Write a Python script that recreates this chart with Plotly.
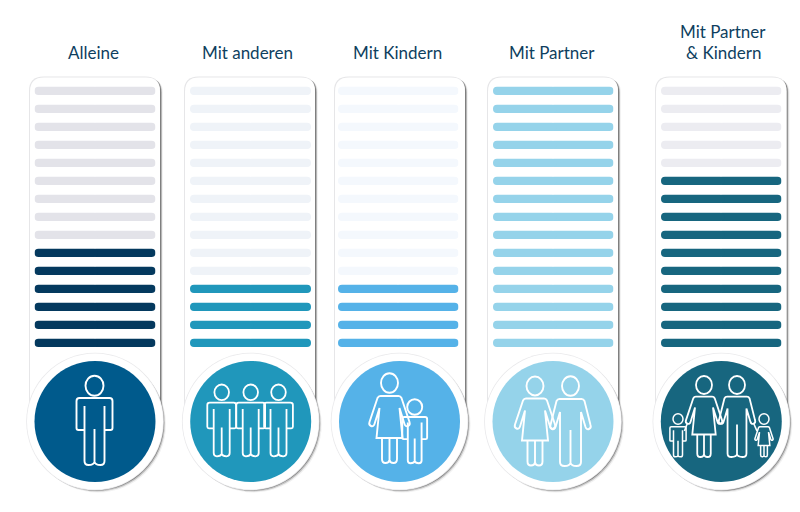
import plotly.graph_objects as go

# ---------- data ----------
categories = ["Alleine", "Mit anderen", "Mit Kindern", "Mit Partner", "Mit Partner\n& Kindern"]
filled_rows = [6, 4, 4, 15, 10]
total_rows = 15
filled_colors = ["#04395e", "#2097bb", "#55b2e8", "#95d3ea", "#17667f"]
empty_colors = ["#e3e3e9", "#eff3f8", "#f4f8fd", "#95d3ea", "#ececf1"]
circle_colors = ["#005a8c", "#2097bb", "#55b2e8", "#95d3ea", "#17667f"]

# ---------- layout geometry (pixels) ----------
W, H = 800, 512
bar_left = [34.5, 190, 338, 493, 661]
bar_right = [155.5, 311, 458.5, 613.5, 781.5]
panel_left = [30, 185, 335, 488, 656]
panel_right = [160, 315, 465, 618, 786.5]
panel_top, panel_bottom = 77.5, 425
circle_cx = [95, 250.7, 399.5, 553, 721.3]
circle_cy = 421.5
title_cx = [93, 247, 397, 552, 723]
title_line_gap = 20.5
rows_top, rows_bottom = 81.8, 351.8

px = lambda x: x / W
py = lambda y: 1 - y / H


def pth(cmds):
    """cmds: list of (letter, x, y, ...) in page pixels -> paper-space SVG path."""
    out = []
    for c in cmds:
        out.append(c[0])
        vals = c[1:]
        pairs = []
        for i in range(0, len(vals), 2):
            pairs.append(f"{px(vals[i]):.5f},{py(vals[i + 1]):.5f}")
        out.append(" ".join(pairs))
    return " ".join(out)


def rounded_rect(x0, y0, x1, y1, r):
    return pth([
        ("M", x0 + r, y0), ("L", x1 - r, y0), ("Q", x1, y0, x1, y0 + r),
        ("L", x1, y1), ("L", x0, y1), ("L", x0, y0 + r), ("Q", x0, y0, x0 + r, y0),
    ]) + " Z"


def ellipse_cmds(cx, cy, rx, ry):
    k = 0.5523
    return [
        ("M", cx - rx, cy),
        ("C", cx - rx, cy - k * ry, cx - k * rx, cy - ry, cx, cy - ry),
        ("C", cx + k * rx, cy - ry, cx + rx, cy - k * ry, cx + rx, cy),
        ("C", cx + rx, cy + k * ry, cx + k * rx, cy + ry, cx, cy + ry),
        ("C", cx - k * rx, cy + ry, cx - rx, cy + k * ry, cx - rx, cy),
    ]


def place(cmds, dx, dy, s):
    res = []
    for c in cmds:
        v = list(c[1:])
        for i in range(0, len(v), 2):
            v[i] = dx + s * v[i]
            v[i + 1] = dy + s * v[i + 1]
        res.append((c[0], *v))
    return res


MAN = [
    ("M", -10, 8), ("L", -10, 32), ("L", -16, 32), ("Q", -18, 32, -18, 30), ("L", -18, 3),
    ("Q", -18, 0, -15, 0), ("L", 15, 0), ("Q", 18, 0, 18, 3), ("L", 18, 30), ("Q", 18, 32, 16, 32),
    ("L", 10, 32), ("L", 10, 8), ("M", 10, 32), ("L", 10, 63), ("Q", 10, 67, 6, 67),
    ("Q", 1, 67, 0, 64), ("Q", -1, 67, -6, 67), ("Q", -10, 67, -10, 63), ("L", -10, 32),
    ("M", 0, 64), ("L", 0, 31),
]
MAN_SPLAY = [
    ("M", -11, 0), ("L", 11, 0), ("Q", 13, 0, 14, 2), ("L", 20, 26), ("Q", 21, 29, 18.5, 30),
    ("Q", 16, 31, 15, 28), ("L", 10.5, 13), ("L", 10.5, 63), ("Q", 10.5, 67, 6, 67), ("Q", 1, 67, 0, 64),
    ("Q", -1, 67, -6, 67), ("Q", -10.5, 67, -10.5, 63), ("L", -10.5, 13), ("L", -15, 28),
    ("Q", -16, 31, -18.5, 30), ("Q", -21, 29, -20, 26), ("L", -14, 2), ("Q", -13, 0, -11, 0),
    ("M", 0, 64), ("L", 0, 31),
]
WOMAN = [
    ("M", -9, 0), ("L", 9, 0), ("Q", 11, 0, 12, 2), ("L", 20, 26), ("Q", 21, 29, 18.5, 30),
    ("Q", 16, 31, 15, 28), ("L", 10, 12), ("L", 13, 42), ("L", -13, 42), ("L", -10, 12),
    ("L", -15, 28), ("Q", -16, 31, -18.5, 30), ("Q", -21, 29, -20, 26), ("L", -12, 2), ("Q", -11, 0, -9, 0),
    ("M", -7.5, 42), ("L", -7.5, 63), ("Q", -7.5, 67, -4, 67), ("Q", -0.5, 67, 0, 64),
    ("Q", 0.5, 67, 4, 67), ("Q", 7.5, 67, 7.5, 63), ("L", 7.5, 42), ("M", 0, 64), ("L", 0, 42),
]

# icon placements per category: (body, cx, shoulder_y, scale, head_cy, head_rx, head_ry, stroke)
icons = [
    [(MAN, 94.5, 398, 1.0, 385.7, 9, 10, 1.9)],
    [(MAN, 221.7, 402.7, 0.8, 392.3, 7.3, 7.8, 1.8),
     (MAN, 250.7, 402.7, 0.8, 392.3, 7.3, 7.8, 1.8),
     (MAN, 278.5, 402.7, 0.8, 392.3, 7.3, 7.8, 1.8)],
    [(WOMAN, 389.5, 396, 1.0, 383, 8.5, 9.8, 1.9),
     (MAN, 414.7, 417, 0.69, 407, 7.5, 7.8, 1.9)],
    [(WOMAN, 535, 398.5, 1.0, 386, 8.5, 9.5, 1.9),
     (MAN_SPLAY, 570.5, 399, 1.0, 386, 8.5, 9.8, 1.9)],
    [(WOMAN, 704, 396.7, 0.9, 385, 8, 9, 1.8),
     (MAN_SPLAY, 737, 396.7, 0.9, 385, 8, 9, 1.8),
     (MAN, 678, 426.7, 0.45, 419, 5, 5.2, 1.5),
     (WOMAN, 764, 426.7, 0.45, 419, 5, 5.2, 1.5)],
]
# the outer parents' arms reach down to the children's hands in the last icon
arm_links = [[("M", 687.5, 423), ("L", 684.5, 431)], [("M", 753.5, 423), ("L", 757, 431)]]

# ---------- shapes ----------
shapes = []


def add(path=None, fill=None, line=None, lw=0, **kw):
    shapes.append(dict(type="path", path=path, xref="paper", yref="paper", layer="below",
                       fillcolor=fill or "rgba(0,0,0,0)",
                       line=dict(color=line or "rgba(0,0,0,0)", width=lw), **kw))


def circle_path(cx, cy, r):
    return pth(ellipse_cmds(cx, cy, r, r)) + " Z"


for i in range(len(categories)):
    l, r = panel_left[i], panel_right[i]
    # panel: soft shadow, faint halo, white body
    for off, op in [(3.0, 0.06), (2.0, 0.22), (1.2, 0.45)]:
        add(rounded_rect(l + off, panel_top + off * 0.5, r + off, panel_bottom, 14), fill=f"rgba(40,40,40,{op})")
    add(rounded_rect(l - 1, panel_top - 1, r, panel_bottom, 14.5), fill="#e6e6e8")
    add(rounded_rect(l, panel_top, r, panel_bottom, 14), fill="#ffffff")

for i in range(len(categories)):
    cx = circle_cx[i]
    for off, op in [(3.0, 0.06), (2.0, 0.22), (1.1, 0.45)]:
        add(circle_path(cx + off, circle_cy + off, 68), fill=f"rgba(40,40,40,{op})")
    add(circle_path(cx, circle_cy, 68.8), fill="#e9e9eb")
    add(circle_path(cx, circle_cy, 68), fill="#ffffff")
    add(circle_path(cx, circle_cy, 60.5), fill=circle_colors[i])
    for body, bx, by, s, hy, hrx, hry, lw in icons[i]:
        add(pth(place(body, bx, by, s)), line="#ffffff", lw=lw)
        add(pth(ellipse_cmds(bx, hy, hrx, hry)) + " Z", line="#ffffff", lw=lw)
for link in arm_links:
    add(pth(link), line="#ffffff", lw=1.6)

# ---------- bars: each row is two overlapping halves so both ends come out rounded ----------
overlap = 0.05
fig = go.Figure()
rows = list(range(1, total_rows + 1))
for i, name in enumerate(categories):
    ax = "" if i == 0 else str(i + 1)
    n_empty = total_rows - filled_rows[i]
    for ys, col in [(rows[:n_empty], empty_colors[i]), (rows[n_empty:], filled_colors[i])]:
        n = len(ys)
        fig.add_trace(go.Bar(orientation="h", y=ys + ys,
                             x=[1 + overlap] * n + [-1 - overlap] * n,
                             base=[-overlap] * n + [overlap] * n,
                             marker=dict(color=col, line_width=0), width=0.46,
                             xaxis="x" + ax, yaxis="y", hoverinfo="skip", showlegend=False))
    fig.update_layout({"xaxis" + ax: dict(domain=[px(bar_left[i]), px(bar_right[i])], range=[-1, 1],
                                          visible=False, anchor="y", fixedrange=True)})

# ---------- titles ----------
annotations = []
for i, name in enumerate(categories):
    lines = name.split("\n")
    for j, t in enumerate(reversed(lines)):
        annotations.append(dict(text=t, x=px(title_cx[i]), y=py(52 - title_line_gap * j), xref="paper", yref="paper",
                                xanchor="center", yanchor="middle", showarrow=False,
                                font=dict(family="Lato", size=17, color="#0f3f5f")))

fig.update_layout(
    width=W, height=H, autosize=False,
    margin=dict(l=0, r=0, t=0, b=0, pad=0),
    paper_bgcolor="#ffffff", plot_bgcolor="rgba(0,0,0,0)",
    barmode="overlay", barcornerradius=4,
    yaxis=dict(domain=[py(rows_bottom), py(rows_top)], range=[total_rows + 0.5, 0.5],
               visible=False, fixedrange=True),
    shapes=shapes, annotations=annotations,
    showlegend=False,
)
fig.write_html("out.html", config=dict(displayModeBar=False),
               post_script="document.body.style.margin='0';document.documentElement.style.overflow='hidden';")
